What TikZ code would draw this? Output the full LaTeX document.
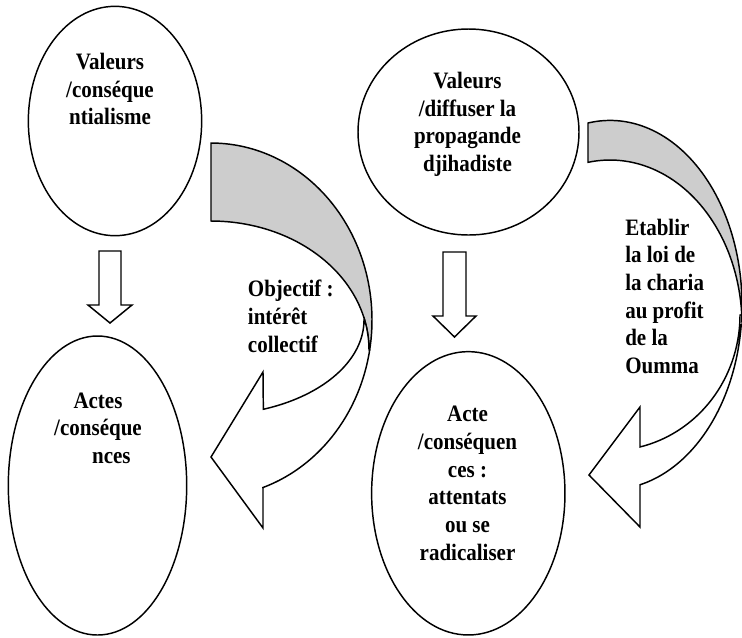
\documentclass[tikz,border=0pt]{standalone}
\usepackage{fontspec}
\setmainfont{Liberation Serif}
\usepackage{graphicx}
\usetikzlibrary{shapes.geometric}
\definecolor{backgray}{RGB}{205,205,205}
\begin{document}
\begin{tikzpicture}[x=0.75pt,y=-0.75pt,
  ell/.style={ellipse, draw=black, line width=1.1pt, inner sep=0pt, fill=white},
  lbl/.style={inner sep=0pt, font=\fontsize{15.75}{18.57}\selectfont\bfseries},
  shapeline/.style={draw=black, line width=1.1pt, line join=miter},
  backpart/.style={shapeline, fill=backgray},
  frontpart/.style={shapeline, fill=white}
]
\useasboundingbox (0,0) rectangle (742,637);

% ellipses
\node[ell, minimum width=130pt, minimum height=172pt] (v1) at (115,121) {};
\node[ell, minimum width=165.75pt, minimum height=154.5pt] (v2) at (468.5,132) {};
\node[ell, minimum width=133.8pt, minimum height=224.25pt] (a1) at (97.5,485.5) {};
\node[ell, minimum width=145pt, minimum height=212.5pt] (a2) at (468.3,493.3) {};

% straight down arrows
\draw[frontpart] (99,251) -- (121,251) -- (121,305) -- (132,305) -- (110,323) -- (88,305) -- (99,305) -- cycle;
\draw[frontpart] (443,252) -- (466,252) -- (466,316) -- (476,316) -- (454.5,337) -- (433,316) -- (443,316) -- cycle;

% left curved arrow: back (gray) part
\draw[backpart] plot[domain=90:-9.76, samples=60] ({211+161*cos(\x)},{320-177*sin(\x)})
  -- plot[domain=0:90, samples=50] ({211+158*cos(\x)},{350-129*sin(\x)}) -- cycle;
% left curved arrow: front (white) part
\draw[frontpart] plot[domain=0:-70, samples=50] ({211+153*cos(\x)},{320-95*sin(\x)})
  -- (263,372) -- (211,457) -- (263,528) -- (263,488)
  -- plot[domain=-71.2:-9.76, samples=50] ({211+161*cos(\x)},{320-177*sin(\x)})
  -- plot[domain=0:13.9, samples=10] ({211+158*cos(\x)},{350-129*sin(\x)}) -- cycle;

% right curved arrow: back (gray) part
\draw[backpart] plot[domain=99.6:-6.2, samples=60] ({610+132*cos(\x)},{305-184.6*sin(\x)})
  -- plot[domain=0:99.6, samples=50] ({610+132*cos(\x)},{325-165*sin(\x)}) -- cycle;
% right curved arrow: front (white) part
\draw[frontpart] plot[domain=0:-76.66, samples=50] ({610+130*cos(\x)},{315-135.6*sin(\x)})
  -- (640,407) -- (589,475) -- (640,527) -- (640,484.8)
  -- plot[domain=-76.86:-6.2, samples=50] ({610+132*cos(\x)},{305-184.6*sin(\x)})
  -- plot[domain=0:3.5, samples=5] ({610+132*cos(\x)},{325-165*sin(\x)}) -- cycle;

% texts
\node[lbl, anchor=base] (t1) at (110,69.3) {\scalebox{1}[1.12]{\begin{tabular}[t]{@{}c@{}}Valeurs\\/conséque\\ntialisme\end{tabular}}};
\node[lbl, anchor=base] (t2) at (467.5,88.3) {\scalebox{1}[1.12]{\begin{tabular}[t]{@{}c@{}}Valeurs\\/diffuser la\\propagande\\djihadiste\end{tabular}}};
\node[lbl, anchor=base west] (t3) at (247.7,296.7) {\scalebox{1}[1.12]{\begin{tabular}[t]{@{}l@{}}Objectif :\\intérêt\\collectif\end{tabular}}};
\node[lbl, anchor=base west] (t4) at (625,235) {\scalebox{1}[1.12]{\begin{tabular}[t]{@{}l@{}}Etablir\\la loi de\\la charia\\au profit\\de la\\Oumma\end{tabular}}};
\node[lbl, anchor=base] (t5) at (98,408) {\scalebox{1}[1.12]{\begin{tabular}[t]{@{}c@{}}Actes\\/conséque\\\hspace*{20pt}nces\end{tabular}}};
\node[lbl, anchor=base] (t6) at (467.5,421.7) {\scalebox{1}[1.12]{\begin{tabular}[t]{@{}c@{}}Acte\\/conséquen\\ces :\\attentats\\ou se\\radicaliser\end{tabular}}};
\end{tikzpicture}
\end{document}
